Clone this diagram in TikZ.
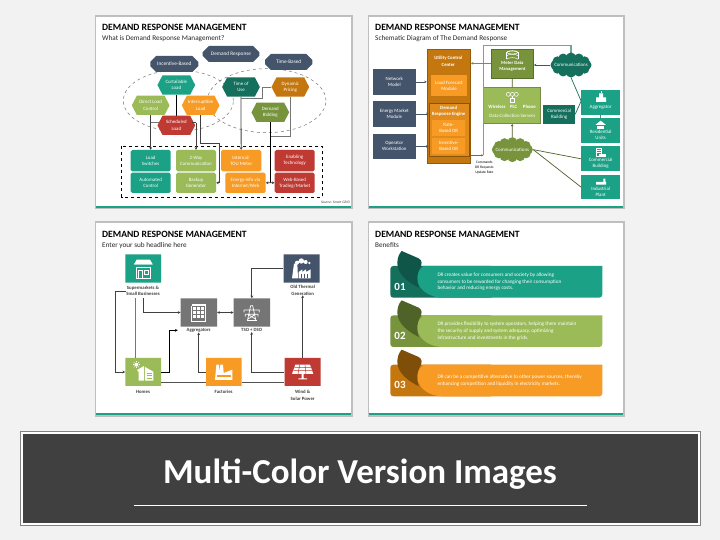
\documentclass[tikz,border=0pt]{standalone}
\usepackage{fontspec}
\setmainfont{Carlito}
\usetikzlibrary{arrows.meta,shapes.geometric,shapes.misc,shapes.symbols,calc}
\definecolor{pagebg}{HTML}{F2F2F2}
\definecolor{slate}{HTML}{44546A}
\definecolor{teal}{HTML}{1BA185}
\definecolor{dteal}{HTML}{146F5C}
\definecolor{xteal}{HTML}{0F5548}
\definecolor{lgreen}{HTML}{9BBB59}
\definecolor{dgreen}{HTML}{77933C}
\definecolor{xgreen}{HTML}{4F6228}
\definecolor{orng}{HTML}{F79B24}
\definecolor{dorng}{HTML}{C5770F}
\definecolor{xorng}{HTML}{7F4F0A}
\definecolor{redb}{HTML}{BE3A33}
\definecolor{gryb}{HTML}{757575}
\definecolor{linec}{HTML}{404040}
\definecolor{tline}{HTML}{6FA69A}
\tikzset{
  zoomA/.style={x=0.33333pt,y=-0.33333pt},
  ntext/.style={text=white,align=center,inner sep=0pt,font=\fontsize{4.9}{6.1}\selectfont},
  hexa/.style={signal,signal to=east and west,signal pointer angle=125,inner sep=0pt,minimum width=37.7pt,minimum height=19.3pt,fill=#1,ntext},
  octa/.style={chamfered rectangle,chamfered rectangle xsep=4pt,chamfered rectangle ysep=4pt,inner sep=0pt,fill=slate,ntext,font=\fontsize{5.3}{6.4}\selectfont},
  rbox/.style={rectangle,rounded corners=1.6pt,inner sep=0pt,fill=#1,ntext},
  sbox/.style={rectangle,inner sep=0pt,fill=#1,ntext},
  bsbox/.style={sbox=#1,draw=#1!75!black,line width=.6pt},
  snip/.style={chamfered rectangle,chamfered rectangle corners={north east,south west},chamfered rectangle xsep=3pt,chamfered rectangle ysep=3pt,inner sep=0pt,fill=#1},
  cap3/.style={text=linec,align=center,inner sep=0pt,font=\bfseries\fontsize{4.8}{6.3}\selectfont},
  cloudtxt/.style={rectangle,ntext,minimum width=41.5pt,minimum height=24.7pt},
  conn/.style={draw=linec,line width=.8pt},
  arr/.style={conn,-{Stealth[length=2.6pt,width=2.8pt]}},
  arrb/.style={conn,{Stealth[length=2.6pt,width=2.8pt]}-{Stealth[length=2.6pt,width=2.8pt]}},
  ttl/.style={anchor=west,inner sep=0pt,text=black,font=\bfseries\fontsize{9.6}{11}\selectfont},
  sttl/.style={anchor=west,inner sep=0pt,text=black!85,font=\fontsize{7.2}{9}\selectfont},
  ico/.style={fill=white,draw=none},
  icol/.style={draw=white,line width=.5pt,fill=none},
}
% box from corner to corner, in the units of the scope
\newcommand{\bx}[7][]{\node[#2,#1,minimum width={(#5-#3)/3*1pt},minimum height={(#6-#4)/3*1pt}] (#7) at ({(#3+#5)/2},{(#4+#6)/2})}
% cloud body made of puffs round a centre
\newcommand{\puffs}[3]{%
  \fill[#3] (#1,#2) ellipse[x radius=52,y radius=28];
  \foreach \aa in {0,30,...,330}{\fill[#3] ({#1+47*cos(\aa)},{#2+23*sin(\aa)}) circle[radius=14.5];}
}
\begin{document}
\begin{tikzpicture}[x=1pt,y=-1pt]
\useasboundingbox (0,0) rectangle (720,540);
\fill[pagebg] (0,0) rectangle (720,540);
% panels
\fill[black!25] (94.5,15.5) rectangle (352.5,209.5);
\fill[white] (96,17) rectangle (351,208);
\fill[teal] (96,206) rectangle (351,208);
\fill[black!25] (367.5,15.5) rectangle (624.5,209.5);
\fill[white] (369,17) rectangle (623,208);
\fill[teal] (369,206) rectangle (623,208);
\fill[black!25] (94.5,221.5) rectangle (352.5,416.5);
\fill[white] (96,223) rectangle (351,415);
\fill[teal] (96,413) rectangle (351,415);
\fill[black!25] (367.5,221.5) rectangle (624.5,416.5);
\fill[white] (369,223) rectangle (623,415);
\fill[teal] (369,413) rectangle (623,415);
% banner
\fill[gryb!90] (20,431) rectangle (701,526);
\fill[white] (21,432) rectangle (700,525);
\fill[linec] (23,434) rectangle (698,523);
\node[inner sep=0pt,text=white,font=\bfseries\fontsize{35}{38}\selectfont] (bannertitle) at (360,474) {Multi-Color Version Images};
\draw[white,line width=.7pt] (134,505) -- (587,505);

% ============ PANEL 1 ============
\begin{scope}[shift={(90pt,-10pt)},zoomA]
\node[ttl] (t1) at (36,52) {DEMAND RESPONSE MANAGEMENT};
\node[sttl] (s1) at (36,85) {What is Demand Response Management?};
\node[ellipse,draw=gryb,dashed,line width=.5pt,minimum width=110pt,minimum height=61pt,inner sep=0pt] (eL) at (265,272) {};
\node[ellipse,draw=gryb,dashed,line width=.5pt,minimum width=118.5pt,minimum height=64pt,inner sep=0pt] (eR) at (530,272) {};
\draw[draw=black,dashed,line width=.6pt] (95,409) rectangle (697,561);
\bx{octa}{338}{108}{508}{156}{dr}{Demand Response};
\bx{octa}{181}{138}{325}{186}{ib}{Incentive-Based};
\bx{octa}{525}{132}{667}{180}{tb}{Time-Based};
\bx{rbox=teal}{122}{420}{242}{484}{ls}{Load\\Switches};
\bx{rbox=teal}{122}{488}{242}{549}{ac}{Automated\\Control};
\bx{rbox=lgreen}{258}{420}{378}{484}{tw}{2-Way\\Communication};
\bx{rbox=lgreen}{258}{488}{378}{549}{bg}{Backup\\Generator};
\bx{rbox=orng}{393}{420}{514}{484}{tou}{Internal/\\TOU Meter};
\bx{rbox=orng}{406}{488}{527}{549}{ei}{Energy-Info via\\Internet/Web};
\bx{rbox=redb}{554}{420}{674}{484}{et}{Enabling\\Technology};
\bx{rbox=redb}{554}{488}{674}{549}{wb}{Web-Based\\Trading/Market};
\node[hexa=lgreen] (dl) at (182,286) {Direct Load\\Control};
\node[hexa=orng] (ir) at (332,286) {Interruptible\\Load};
\node[hexa=teal] (cl) at (259,225) {Curtailable\\Load};
\node[hexa=dteal] (tu) at (453,231) {Time of\\Use};
\node[hexa=dorng] (dp) at (601,231) {Dynamic\\Pricing};
\node[hexa=dgreen] (db) at (541,307) {Demand\\Bidding};
\coordinate (j1) at (517,265);
\coordinate (j2) at (541,378);
\coordinate (j3) at (541,518);
\coordinate (j4) at (388,400);
\coordinate (j5) at (318,338);
\coordinate (j6) at (182,338);
\draw[conn,line width=1pt,black] (cl.south) -- (259,318);
\draw[arr] (dl.south) -- (ls.north);
\draw[conn,gryb] (j6) -- (j6 -| cl.south);
\draw[arr] (j5) -- (tw.north);
\draw[arr] (ir.south) |- (j4) |- (bg.east);
\draw[arr] (tu.south) -- (tou.north);
\draw[conn,gryb] (dp.west) -| (j1) -- (tu.south |- j1);
\draw[conn,gryb] (dp.south) |- (j2);
\draw[conn,black] (db.south) -- (j3);
\draw[arr] (j3) -- (ei.east);
\draw[arr] (j3) -- (wb.west);
\node[hexa=redb] (sl) at (259,346) {Scheduled\\Load};
\draw[conn] (j5 -| sl.east) ++(-3pt,0) -- (j5);
\node[inner sep=0pt,anchor=east,text=linec,font=\itshape\fontsize{3.6}{4}\selectfont] (src) at (780,578) {Source: Smart GRID};
\end{scope}

% ============ PANEL 2 ============
\begin{scope}[shift={(360pt,-10pt)},zoomA]
\node[ttl] (t2) at (45,52) {DEMAND RESPONSE MANAGEMENT};
\node[sttl] (s2) at (45,85) {Schematic Diagram of The Demand Response};
\bx{sbox=slate}{38}{177}{168}{254}{nm}{Network\\Model};
\bx{sbox=slate}{38}{273}{168}{350}{em}{Energy Market\\Module};
\bx{sbox=slate}{38}{371}{168}{447}{ow}{Operator\\Workstation};
\bx{bsbox=dorng}{201}{118}{332}{461}{ucc}{};
\node[ntext,font=\bfseries\fontsize{4.8}{6.2}\selectfont] (ucct) at (265,154) {Utility Control\\Center};
\bx{sbox=orng}{212}{196}{322}{258}{lf}{Load Forecast\\Module};
\node[sbox=orng!55!dorng,draw=dorng!70!black,line width=.6pt,minimum width=40pt,minimum height=53pt] (dre) at (266.5,359.5) {};
\node[ntext,font=\bfseries\fontsize{4.8}{6.2}\selectfont] (dret) at (266,304) {Demand\\Response Engine};
\bx{sbox=orng}{216}{330}{316}{379}{rb}{Rate-\\Based DR};
\bx{sbox=orng}{216}{384}{316}{433}{ibd}{Incentive-\\Based DR};
\coordinate (q1) at (370,436);
\coordinate (q2) at (370,107);
\coordinate (q3) at (633,107);
\bx{bsbox=dgreen}{393}{118}{521}{204}{mdm}{};
\node[ntext,font=\bfseries\fontsize{4.7}{6.1}\selectfont] (mdmt) at (457,170) {Meter Data\\Management};
\bx{bsbox=lgreen}{371}{233}{542}{341}{dcs}{};
\draw[tline,line width=1.2pt] (q1) -- (q2) -- (q3) -- (633,130);
\node[ntext,font=\bfseries\fontsize{4.8}{6}\selectfont] (w1) at (411,291) {Wireless};
\node[ntext,font=\bfseries\fontsize{4.8}{6}\selectfont] (w2) at (461,291) {PLC};
\node[ntext,font=\bfseries\fontsize{4.8}{6}\selectfont] (w3) at (508,291) {Phone};
\node[ntext] (w4) at (457,316) {Data Collection Servers};
\bx{sbox=dteal}{550}{285}{645}{341}{cb1}{Commercial\\Building};
\puffs{633}{165}{dteal}
\puffs{457}{419}{dgreen}
\node[cloudtxt] (c1) at (633,165) {Communications};
\node[cloudtxt] (c2) at (457,419) {Communications};
\bx{sbox=teal}{664}{241}{780}{314}{ag}{};
\bx{sbox=teal}{664}{325}{780}{399}{ru}{};
\bx{sbox=teal}{664}{409}{780}{484}{cb2}{};
\bx{sbox=teal}{664}{495}{780}{568}{ip}{};
\node[ntext] (agt) at (722,291) {Aggregator};
\node[ntext] (rut) at (722,375) {Residential\\Units};
\node[ntext] (cbt) at (722,460) {Commercial\\Building};
\node[ntext] (ipt) at (722,545) {Industrial\\Plant};
\node[inner sep=0pt,align=center,text=black,font=\fontsize{3.6}{5.2}\selectfont] (cmd) at (373,472) {Commands\\DR Requests\\Update Rate};
\tikzset{slarr/.style={draw=slate,line width=.6pt,-{Stealth[length=2.4pt,width=2.6pt]}}}
\draw[slarr] (nm.east) -- (ucc.west |- nm.east);
\draw[slarr] (em.east) -- (dre.west |- em.east);
\draw[slarr] (ow.east) -- (dre.west |- ow.east);
\draw[draw=dgreen,line width=.7pt,-{Stealth[length=2.4pt,width=2.6pt]}] (mdm.west |- 0,160) -- (ucc.east |- 0,160);
\draw[draw=dteal,line width=.7pt,-{Stealth[length=2.4pt,width=2.6pt]}] (c1.west) -- (mdm.east |- c1.west);
\draw[draw=xgreen,line width=.7pt] (dcs.north) -- (mdm.south);
\draw[draw=xgreen,line width=.7pt,-{Stealth[length=2.4pt,width=2.6pt]}] (c2.north) -- (dcs.south);
\draw[draw=dorng!80!black,line width=.6pt,-{Stealth[length=2pt,width=2.2pt]}] (ucc.east |- q1) -- (q1);
\draw[draw=dteal,line width=.7pt] (c1.south) -- ([yshift=1.5pt]ag.west);
\draw[draw=dteal,line width=.7pt] (cb1.east) -- ([yshift=1.5pt]ag.west);
\draw[draw=gryb,line width=.7pt] (ag.south) -- (ru.north);
\draw[draw=xgreen,line width=.7pt] (c2.east) -- (cb2.west);
\draw[draw=xgreen,line width=.7pt] (c2.east) -- (ip.west);
% database icon
\foreach \yy in {128,138,148}{\draw[icol] (440,\yy) arc[start angle=180,end angle=360,x radius=17,y radius=5];}
\draw[icol] (457,127) ellipse[x radius=17,y radius=5];
\draw[icol] (440,127) -- (440,148) (474,127) -- (474,148);
% network icon
\foreach \xx in {445,457,469}{\draw[icol] (\xx,253) circle[radius=6];}
\draw[icol] (450,264) rectangle (464,278) (457,259) -- (457,264);
% aggregator icon
\fill[ico] (708,276) rectangle (738,262) (717,262) rectangle (729,250);
\draw[icol] (723,250) -- (723,244);
% residential icon
\fill[ico] (722,332) -- (738,345) -- (706,345) -- cycle;
\fill[ico] (711,347) rectangle (733,358);
% commercial icon
\draw[icol] (708,414) rectangle (725,438);
\draw[icol] (712,420) -- (722,420) (712,426) -- (722,426);
\fill[ico] (716,433) rectangle (738,442);
% industrial icon
\fill[ico] (708,524) rectangle (738,516) (730,516) rectangle (736,506);
\end{scope}

% ============ PANEL 3 ============
\begin{scope}[shift={(90pt,-215pt)},zoomA]
\node[ttl] (t3) at (36,58) {DEMAND RESPONSE MANAGEMENT};
\node[sttl] (s3) at (36,91) {Enter your sub headline here};
\bx{snip=teal}{106}{118}{213}{203}{sm}{};
\bx{snip=slate}{581}{118}{689}{203}{ot}{};
\bx{snip=gryb}{272}{250}{381}{335}{agg}{};
\bx{snip=gryb}{431}{250}{540}{335}{tso}{};
\bx{snip=lgreen}{106}{429}{213}{513}{hm}{};
\bx{snip=orng}{348}{429}{455}{513}{fc}{};
\bx{snip=redb}{584}{429}{692}{513}{ws}{};
\node[cap3] (smt) at (159,228) {Supermarkets \&\\Small Businesses};
\node[cap3] (ott) at (638,226) {Old Thermal\\Generation};
\node[cap3] (aggt) at (326,346) {Aggregators};
\node[cap3] (tsot) at (485,346) {TSO + DSO};
\node[cap3] (hmt) at (159,531) {Homes};
\node[cap3] (fct) at (401,531) {Factories};
\node[cap3] (wst) at (638,541) {Wind \&\\Solar Power};
\coordinate (p1) at (77,228);
\coordinate (p2) at (238,471);
\coordinate (p3) at (263,346);
\coordinate (p4) at (485,160);
\coordinate (p5) at (137,250);
\coordinate (p6) at (159,250);
\draw[arr] (p6) |- (agg.west);
\draw[arr] (smt.west) -- (p1) |- (hm.west);
\draw[conn,gryb] (p5) -- (p5 |- hm.north);
\draw[arr,black] (hm.east) -| (p3 -| p2) -- (p3);
\draw[arrb] (agg.east) -- (tso.west);
\draw[arr] (fc.west) -| (aggt.south);
\draw[arr] (ot.west) -| (tso.north);
\draw[arr] (ws.west) -| (tsot.south);
\draw[arr] (ws.north) -- (ott.south);
\draw[conn,gryb!70!black] (hm.east |- 0,501) -- (fc.west |- 0,501) (fc.east |- 0,501) -- (ws.west |- 0,501);
% store icon
\fill[ico] (132,148) -- (140,134) -- (180,134) -- (188,148) -- cycle;
\foreach \xx in {132,143.2,154.4,165.6,176.8}{\fill[ico] (\xx,148) arc[start angle=180,end angle=360,radius=5.6];}
\draw[icol,line width=.7pt] (138,157) rectangle (182,190);
\draw[icol] (145,165) rectangle (158,190) (163,165) rectangle (176,178);
% thermal icon
\fill[ico] (621,143) circle[radius=6] (634,138) circle[radius=8] (647,141) circle[radius=6] (658,144) circle[radius=4];
\fill[ico] (612,146) -- (622,146) -- (624,190) -- (606,190) -- cycle;
\fill[ico] (626,171) -- (637,163) -- (637,171) -- (648,163) -- (648,171) -- (662,163) -- (662,190) -- (626,190) -- cycle;
\foreach \xx in {632,641,650}{\fill[slate] (\xx,176) rectangle +(5,14);}
% building icon
\fill[ico] (305,267) rectangle (347,273);
\foreach \xx in {308,320,332}{\foreach \yy in {277,289,301}{\fill[ico] (\xx,\yy) rectangle +(9,8);}}
\draw[icol] (305,273) -- (305,318) -- (347,318) -- (347,273);
% pylon icon
\draw[icol,line width=.7pt] (472,318) -- (482,272) -- (488,272) -- (498,318) (462,285) -- (508,285) (466,298) -- (504,298) (474,312) -- (496,298) (496,312) -- (474,298) (462,285) -- (462,292) (508,285) -- (508,292) (466,298) -- (466,305) (504,298) -- (504,305);
\fill[ico] (470,318) rectangle (500,316);
% home icon
\fill[ico] (141,465) -- (162,453) -- (162,497) -- (146,497) -- (146,471) -- cycle;
\fill[ico] (165,456) -- (190,470) -- (190,497) -- (165,497) -- cycle;
\foreach \yy in {473,481,489}{\fill[lgreen] (170,\yy) rectangle +(16,3);}
\fill[ico] (139,449) circle[radius=6];
\foreach \aa in {0,45,...,315}{\draw[icol] ($(139,449)+(\aa:8)$) -- ($(139,449)+(\aa:11)$);}
% factory icon
\fill[ico] (379,449) -- (387,449) -- (389,472) -- (391,449) -- (399,449) -- (401,474) -- (427,464) -- (427,495) -- (375,495) -- cycle;
\fill[orng] (380,481) rectangle (422,485);
% panel icon
\fill[ico] (616,449) -- (660,449) -- (670,477) -- (606,477) -- cycle;
\draw[redb,line width=.5pt] (613,458) -- (663,458) (610,467) -- (666,467) (629,449) -- (624,477) (645,449) -- (648,477);
\fill[ico] (635,477) rectangle (641,490) (625,490) rectangle (651,493);
\end{scope}

% ============ PANEL 4 ============
\begin{scope}[shift={(360pt,-215pt)},zoomA]
\node[ttl] (t4) at (45,58) {DEMAND RESPONSE MANAGEMENT};
\node[sttl] (s4) at (45,91) {Benefits};
\newcommand{\ribbon}[3]{%
  \fill[#2,rounded corners=3pt] (91,153) rectangle (400,248);
  \fill[#1,rounded corners=3pt] (727,153) -- (727,248) -- (240,248) [sharp corners] .. controls (195,240) and (172,215) .. (172,190) .. controls (172,172) and (178,165) .. (190,153) -- cycle;
  \fill[#3] (125,108) -- (176,130) .. controls (187,136) and (186,148) .. (182,155) .. controls (170,175) and (168,195) .. (177,218) .. controls (150,205) and (112,180) .. (112,145) .. controls (112,130) and (116,118) .. (125,108) -- cycle;
}
\tikzset{num/.style={inner sep=0pt,text=white,font=\bfseries\fontsize{11}{12}\selectfont},
  rtxt/.style={anchor=west,align=left,inner sep=0pt,text=white,font=\fontsize{5.2}{6.8}\selectfont}}
\ribbon{teal}{dteal}{xteal}
\node[num] (n1) at (120,215) {01};
\node[rtxt] (r1) at (232,200) {DR creates value for consumers and society by allowing\\consumers to be rewarded for changing their consumption\\behavior and reducing energy costs.};
\begin{scope}[shift={(0,148)}]
\ribbon{lgreen}{dgreen}{xgreen}
\node[num] (n2) at (120,215) {02};
\node[rtxt] (r2) at (232,200) {DR provides flexibility to system operators, helping them maintain\\the security of supply and system adequacy, optimizing\\infrastructure and investments in the grids.};
\end{scope}
\begin{scope}[shift={(0,296)}]
\ribbon{orng}{dorng}{xorng}
\node[num] (n3) at (120,215) {03};
\node[rtxt] (r3) at (232,200) {DR can be a competitive alternative to other power sources, thereby\\enhancing competition and liquidity in electricity markets.};
\end{scope}
\end{scope}
\end{tikzpicture}
\end{document}
